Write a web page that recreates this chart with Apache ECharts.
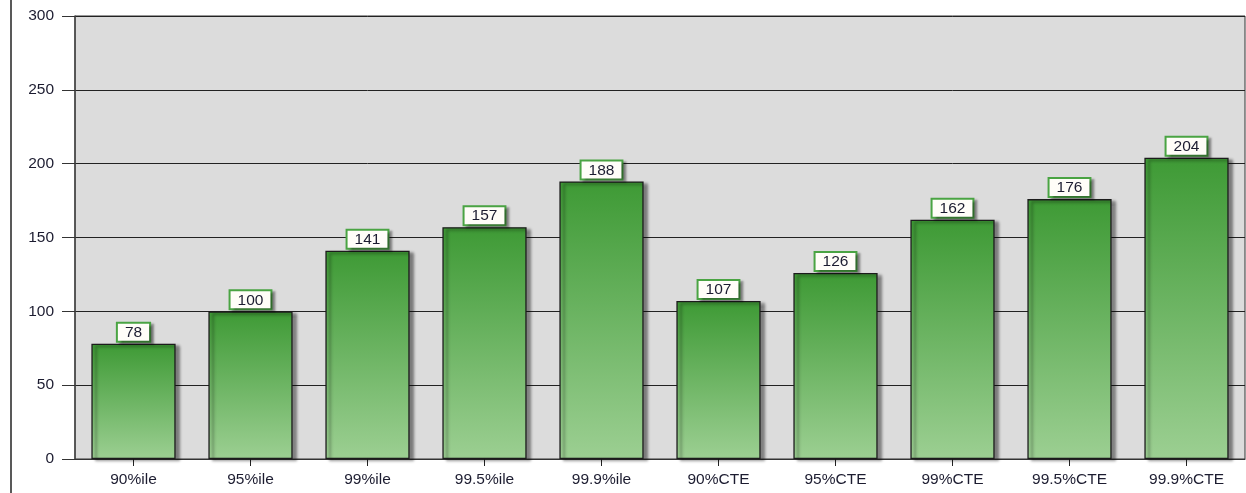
<!DOCTYPE html>
<html>
<head>
<meta charset="utf-8">
<script src="https://cdn.jsdelivr.net/npm/echarts@6/dist/echarts.min.js"></script>
<style>
  html, body { margin: 0; padding: 0; background: #ffffff; }
  #chart { width: 1246px; height: 493px; }
</style>
</head>
<body>
<div id="chart"></div>
<script>
// Risk measures: percentiles and conditional tail expectations
const categories = ['90%ile', '95%ile', '99%ile', '99.5%ile', '99.9%ile',
                    '90%CTE', '95%CTE', '99%CTE', '99.5%CTE', '99.9%CTE'];
const values = [78, 100, 141, 157, 188, 107, 126, 162, 176, 204];
const yTicks = [0, 50, 100, 150, 200, 250, 300];

const chart = echarts.init(document.getElementById('chart'), null, { renderer: 'canvas' });

const barFill = new echarts.graphic.LinearGradient(0, 0, 0, 1, [
  { offset: 0, color: '#3e9a35' },
  { offset: 1, color: '#9ccf92' }
]);

const textColor = '#1c1c30';

chart.setOption({
  animation: false,
  backgroundColor: '#ffffff',
  textStyle: { fontFamily: 'Liberation Sans, Arial, sans-serif' },
  graphic: [{
    type: 'line',
    shape: { x1: 11, y1: 0, x2: 11, y2: 493 },
    style: { stroke: '#222', lineWidth: 1.5 },
    silent: true
  }],
  grid: {
    left: 75, right: 1, top: 16, bottom: 34,
    show: true,
    backgroundColor: '#dcdcdc',
    borderColor: '#333',
    borderWidth: 1
  },
  xAxis: {
    type: 'category',
    data: categories,
    axisLine: { show: true, lineStyle: { color: '#333', width: 1 } },
    axisTick: { show: true, alignWithLabel: true, length: 7, lineStyle: { color: '#222' } },
    axisLabel: { color: textColor, fontSize: 15.5, margin: 13 },
    splitLine: { show: false }
  },
  yAxis: {
    type: 'value',
    min: yTicks[0],
    max: yTicks[yTicks.length - 1],
    interval: yTicks[1] - yTicks[0],
    axisLine: { show: true, lineStyle: { color: '#444', width: 1.5 } },
    axisTick: { show: true, length: 13, lineStyle: { color: '#333' } },
    axisLabel: { color: textColor, fontSize: 15.5, margin: 21 },
    splitLine: { show: true, lineStyle: { color: '#222', width: 1 } }
  },
  series: [{
    type: 'bar',
    data: values,
    barCategoryGap: '28%',
    itemStyle: {
      color: barFill,
      borderColor: '#1c1c1c',
      borderWidth: 1.3,
      shadowColor: 'rgba(0,0,0,0.45)',
      shadowBlur: 3,
      shadowOffsetX: 4,
      shadowOffsetY: 2
    },
    label: {
      show: true,
      position: 'top',
      distance: 3,
      color: textColor,
      fontSize: 15.5,
      lineHeight: 16,
      backgroundColor: '#fffdf8',
      borderColor: '#4aa443',
      borderWidth: 2,
      padding: [1, 7, 0, 7],
      shadowColor: 'rgba(0,0,0,0.35)',
      shadowBlur: 2,
      shadowOffsetX: 3,
      shadowOffsetY: 2
    }
  }]
});
</script>
</body>
</html>
